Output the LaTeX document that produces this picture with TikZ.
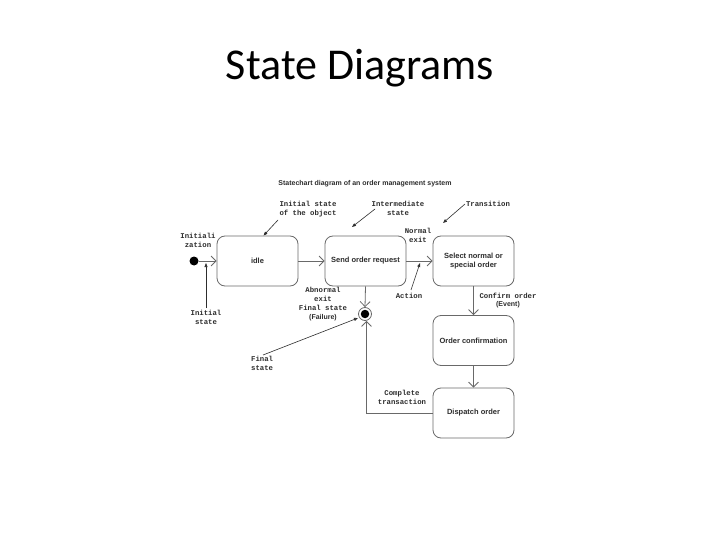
\documentclass[tikz,border=0pt]{standalone}
\usepackage{fontspec}
\setmainfont{Liberation Sans}
\newfontfamily\titlefont{Carlito}
\newfontfamily\monofont{Liberation Mono}
\usetikzlibrary{arrows.meta,calc}
\definecolor{ln}{RGB}{105,105,105}
\definecolor{tx}{RGB}{45,45,45}
\tikzset{
  state/.style={draw=ln, line width=0.8pt, rounded corners=8pt, minimum width=81pt, minimum height=50pt, align=center, text=tx, font=\fontsize{7.5}{9.5}\selectfont\bfseries},
  flow/.style={draw=ln, line width=0.8pt, -{Straight Barb[length=5pt,width=10pt]}},
  note/.style={draw=tx, line width=0.6pt, -{Triangle[length=4pt,width=3pt]}},
  mono/.style={text=tx, align=center, font=\fontsize{7.3}{8.8}\selectfont\monofont\bfseries, inner sep=0pt},
}
\begin{document}
\begin{tikzpicture}[x=1pt,y=-1pt]
\useasboundingbox[fill=white] (0,0) rectangle (720,540);
\node (title) at (360,68) {\titlefont\fontsize{44}{46}\selectfont State Diagrams};
\node[text=tx, font=\fontsize{7}{8}\selectfont\bfseries] (sub) at (365,184) {Statechart diagram of an order management system};

\node[state] (idle) at (257.5,261) {idle};
\node[state] (send) at (365.5,261) {Send order request};
\node[state] (sel) at (473.5,261) {Select normal or\\special order};
\node[state] (conf) at (473.5,340.5) {Order confirmation};
\node[state] (disp) at (473.5,413) {Dispatch order};

\node[circle, fill=black, inner sep=0pt, minimum size=9pt] (init) at (194,261) {};
\node[circle, draw=ln, line width=0.8pt, fill=white, inner sep=0pt, minimum size=13pt] (fin) at (365,314) {};
\node[circle, fill=black, inner sep=0pt, minimum size=8.5pt] (fincore) at (365,314) {};

\draw[flow] (init) -- (idle);
\draw[flow] (idle) -- (send);
\draw[flow] (send) -- (sel);
\draw[flow] (sel) -- (conf);
\draw[flow] (conf) -- (disp);
\draw[flow] (send.south) -- (fin.north);
\draw[flow] (disp.west) -| ([xshift=1.5pt]fin.south);

% annotations
\node[mono] (tInitObj) at (308,209.5) {Initial state\\of the object};
\node[mono] (tInter) at (398,208.5) {Intermediate\\state};
\node[mono] (tTrans) at (488,204) {Transition};
\node[mono] (tNormal) at (418,235.5) {Normal\\exit};
\node[mono] (tAction) at (409,296) {Action};
\node[mono] (tInitz) at (198,240.5) {Initiali\\zation};
\node[mono] (tInitSt) at (206,317.5) {Initial\\state};
\node[mono] (tAbn) at (323,304) {Abnormal\\exit\\Final state\\{\fontsize{7}{8}\selectfont\rmfamily\bfseries (Failure)}};
\node[mono, align=left, anchor=west] (tFinal) at (251,363.5) {Final\\state};
\node[mono] (tConfirm) at (508,300.5) {Confirm order\\{\fontsize{7}{8}\selectfont\rmfamily\bfseries (Event)}};
\node[mono] (tComplete) at (402,397.5) {Complete\\transaction};

\coordinate (aInitObj) at (278,220);
\coordinate (aInter) at (375,209);
\coordinate (aTrans) at (465,204);
\coordinate (aAction) at (411,290);
\coordinate (aInitSt) at (206,308);
\coordinate (aFinal) at (263,355);
\coordinate (hTrans) at (443,223);
\coordinate (hInter) at (352,227);
\coordinate (hAction) at (420,263);
\coordinate (hInitSt) at (206,263);
\coordinate (hFinal) at (358,318);

\draw[note] (aInitObj) -- ([xshift=6pt]idle.north);
\draw[note] (aInter) -- (hInter);
\draw[note] (aTrans) -- (hTrans);
\draw[note] (aAction) -- (hAction);
\draw[note] (aInitSt) -- (hInitSt);
\draw[note] (aFinal) -- (hFinal);
\end{tikzpicture}
\end{document}
